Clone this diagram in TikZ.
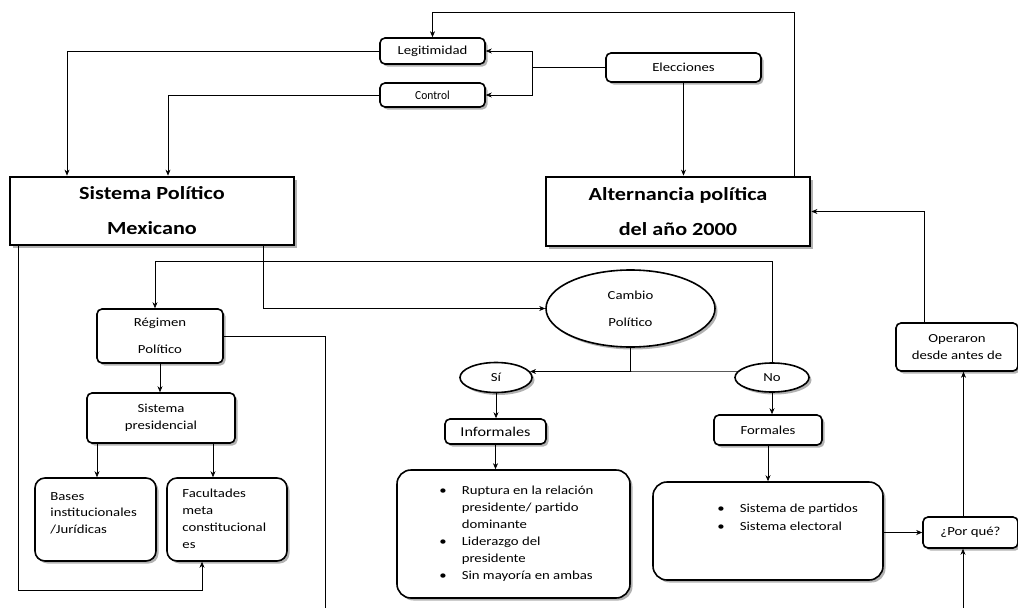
\documentclass[tikz,border=0pt]{standalone}
\usepackage{fontspec}
\setmainfont{Carlito}[FakeStretch=1.2]
\usetikzlibrary{arrows.meta, positioning, calc, shapes.geometric, shadows}

\begin{document}
\begin{tikzpicture}[x=1pt, y=-1pt]
    % --- Style Definitions ---
    \tikzset{
        shadowed/.style={
            drop shadow={shadow xshift=2.5pt, shadow yshift=-2.5pt, fill=black!55, opacity=0.55}
        },
        main box/.style={
            draw=black, 
            line width=2.8pt, 
            fill=white, 
            shadowed,
            align=center, 
            inner sep=0pt,
            font=\fontsize{18.5}{35}\selectfont\bfseries
        },
        label box/.style={
            draw=black, 
            line width=1.6pt, 
            rounded corners=5pt, 
            fill=white, 
            shadowed,
            align=center, 
            inner sep=0pt,
            font=\fontsize{12.3}{17}\selectfont
        },
        round node/.style={
            ellipse, 
            draw=black, 
            line width=1.6pt, 
            fill=white, 
            shadowed,
            align=center, 
            inner sep=0pt,
            font=\fontsize{12.3}{27}\selectfont
        },
        item text/.style={
            align=left, 
            inner sep=0pt,
            font=\fontsize{12.3}{16.7}\selectfont
        },
        link/.style={
            -{Stealth[length=6pt, width=5pt]}, 
            line width=0.6pt, 
            black
        },
        plain link/.style={
            line width=0.6pt, 
            black
        }
    }

    \useasboundingbox (0,0) rectangle (1018,608);

    % --- 1. Main Boxes ---
    \node[main box, minimum width=284pt, minimum height=68pt] (sistema) at (152,211) {Sistema Político\\Mexicano};
    \node[main box, minimum width=264pt, minimum height=69pt] (alternancia) at (678,211.5) {Alternancia política\\del año 2000};

    % --- 2. Top Row ---
    \node[label box, minimum width=105pt, minimum height=26pt] (legitimidad) at (432.5,51) {Legitimidad};
    \node[label box, minimum width=105pt, minimum height=24pt] (control) at (432.5,95) {\scalebox{0.78}[1]{Control}};
    \node[label box, minimum width=155pt, minimum height=29pt] (elecciones) at (683.5,67.5) {Elecciones};

    % --- 3. Left Branch ---
    \node[label box, minimum width=126pt, minimum height=54pt, font=\fontsize{12.3}{27}\selectfont] (regimen) at (160,336) {Régimen\\Político};
    \node[label box, minimum width=148pt, minimum height=50pt] (presidencial) at (161,418) {Sistema\\presidencial};
    \node[label box, rounded corners=10pt, minimum width=121pt, minimum height=83pt] (bases) at (95.5,519.5) {};
    \node[label box, rounded corners=10pt, minimum width=120pt, minimum height=83pt] (facultades) at (227,519.5) {};
    \node[item text, anchor=north west] (bases text) at ([xshift=16pt, yshift=-15pt]bases.north west) {Bases\\institucionales\\/Jurídicas};
    \node[item text, anchor=north west] (facultades text) at ([xshift=16pt, yshift=-12pt]facultades.north west) {Facultades\\meta\\constitucional\\es};

    % --- 4. Middle Branch ---
    \node[round node, minimum width=169pt, minimum height=77pt] (cambio) at (630.5,308.5) {Cambio\\Político};
    \node[round node, minimum width=72pt, minimum height=30pt] (si) at (496,377.5) {Sí};
    \node[round node, minimum width=74pt, minimum height=29pt] (no) at (772,377.5) {No};
    \node[label box, minimum width=101pt, minimum height=25pt, font=\fontsize{13.5}{17}\selectfont] (informales) at (495.5,431.5) {Informales};
    \node[label box, minimum width=108pt, minimum height=30pt] (formales) at (768,430) {Formales};
    \node[label box, rounded corners=14pt, minimum width=233pt, minimum height=128pt] (informales list) at (513.5,534) {};
    \node[label box, rounded corners=14pt, minimum width=230pt, minimum height=98pt] (formales list) at (768,531) {};
    \node[item text, anchor=north west, font=\fontsize{12.3}{17.1}\selectfont] (informales items) at ([xshift=43pt, yshift=-13pt]informales list.north west) {%
        \begin{tabular}[t]{@{}l@{\hspace{15pt}}l@{}}
            \textbullet & Ruptura en la relación\\
                        & presidente/ partido\\
                        & dominante\\
            \textbullet & Liderazgo del\\
                        & presidente\\
            \textbullet & Sin mayoría en ambas
        \end{tabular}};
    \node[item text, anchor=north west, font=\fontsize{12.3}{18}\selectfont] (formales items) at ([xshift=65pt, yshift=-18pt]formales list.north west) {%
        \begin{tabular}[t]{@{}l@{\hspace{15pt}}l@{}}
            \textbullet & Sistema de partidos\\
            \textbullet & Sistema electoral
        \end{tabular}};

    % --- 5. Right Branch ---
    \node[label box, minimum width=122pt, minimum height=48pt] (operaron) at (957,347) {Operaron\\desde antes de};
    \node[label box, minimum width=95pt, minimum height=31pt] (porque) at (970.5,532.5) {¿Por qué?};

    % --- 6. Connectors ---
    \coordinate (fork) at (532,67.5);
    \coordinate (loop out) at (325,608);
    \coordinate (loop in) at (963,608);

    \draw[plain link] (elecciones.west) -- (fork);
    \draw[link] (fork) |- (legitimidad.east);
    \draw[link] (fork) |- (control.east);
    \draw[link] (legitimidad.west) -| ([xshift=-85pt]sistema.north);
    \draw[link] (control.west) -| ([xshift=16pt]sistema.north);
    \draw[link] ([xshift=116pt]alternancia.north) -- ++(0,-163) -| (legitimidad.north);
    \draw[link] (elecciones.south) -- (elecciones.south |- alternancia.north);

    \draw[link] ([xshift=111pt]sistema.south) |- (cambio.west);
    \draw[link] (no.north) -- ++(0,-101) -| ([xshift=-5pt]regimen.north);
    \draw[link] (regimen.south) -- (regimen.south |- presidencial.north);
    \draw[link] ([xshift=-64pt]presidencial.south) -- ([xshift=-64pt]presidencial.south |- bases.north);
    \draw[link] ([xshift=52pt]presidencial.south) -- ([xshift=52pt]presidencial.south |- facultades.north);
    \draw[link] ([xshift=-134pt]sistema.south) -- ++(0,344) -| ([xshift=-25pt]facultades.south);
    \draw[plain link] (regimen.east) -| (loop out);

    \draw[plain link] (cambio.south) -- (cambio.south |- si.10);
    \draw[link, {Stealth[length=6pt, width=5pt]}-] (si.10) -- (no.170);
    \draw[link] (si.south) -- (si.south |- informales.north);
    \draw[link] (informales.south) -- (informales.south |- informales list.north);
    \draw[link] (no.south) -- (no.south |- formales.north);
    \draw[link] (formales.south) -- (formales list.north);

    \draw[link] (formales list.east |- porque.west) -- (porque.west);
    \draw[link] ([xshift=-7pt]porque.north) -- ([xshift=-7pt]porque.north |- operaron.south);
    \draw[link] (loop in) -- (loop in |- porque.south);
    \draw[link] ([xshift=-33pt]operaron.north) |- (alternancia.east);

\end{tikzpicture}
\end{document}
